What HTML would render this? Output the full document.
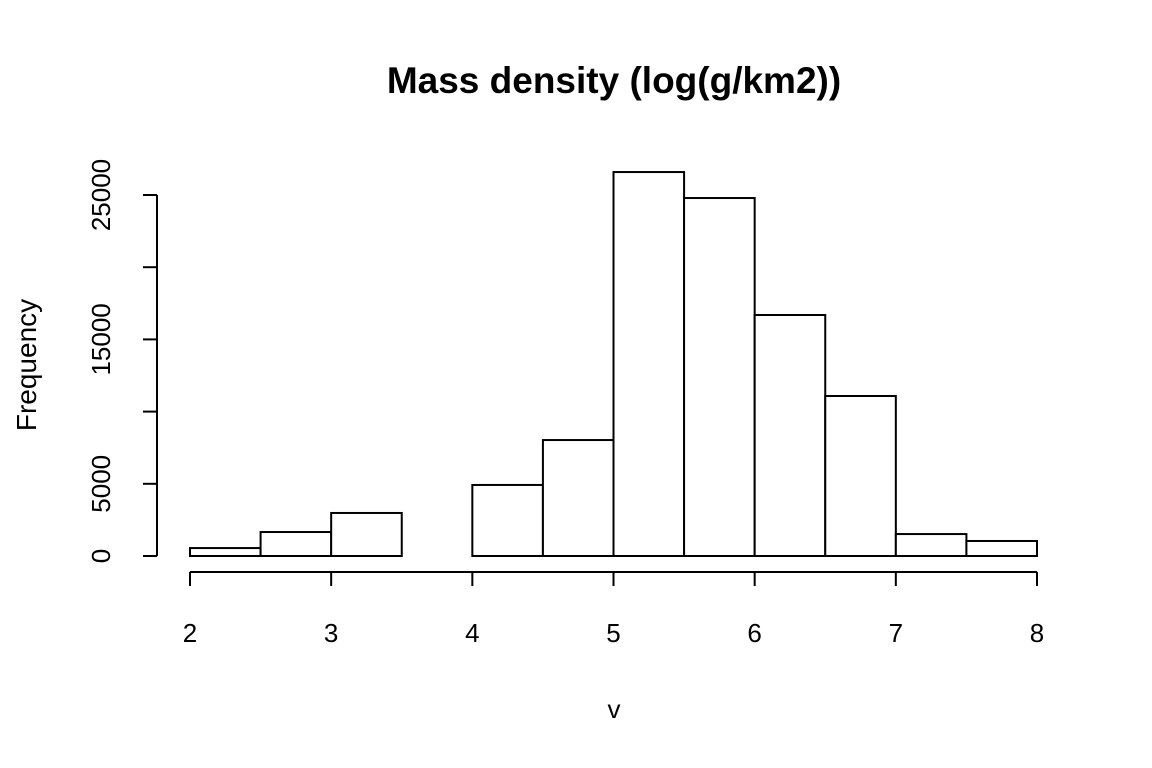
<!DOCTYPE html>
<html><head><meta charset="utf-8"><style>
html,body{margin:0;padding:0;background:#fff;}
svg{display:block;font-family:"Liberation Sans",Arial,sans-serif;}
</style></head><body>
<svg id="chart" width="1152" height="768" viewBox="0 0 1152 768">
<text x="614" y="93" text-anchor="middle" font-size="37" font-weight="bold">Mass density (log(g/km2))</text>
<text x="614" y="718" text-anchor="middle" font-size="26">v</text>
<text x="36" y="365" text-anchor="middle" font-size="28" transform="rotate(-90 36 365)">Frequency</text>
<g id="bars"></g><g id="xaxis"></g><g id="yaxis"></g>
</svg>
<script>
const binStarts = [2,2.5,3,3.5,4,4.5,5,5.5,6,6.5,7,7.5];
const counts = [550,1660,2980,0,4920,8030,26590,24790,16690,11080,1520,1040];
const xTicks = [2,3,4,5,6,7,8];
const yTicks = [0,5000,10000,15000,20000,25000];
const yTickLabels = ["0","5000","","15000","","25000"];
const binWidth = 0.5;
const NS="http://www.w3.org/2000/svg";
function sx(v){return 190+(v-2)*(1037-190)/6;}
function sy(v){return 556-v*(556-195)/25000;}
function mk(t,a,p){const e=document.createElementNS(NS,t);for(const k in a)e.setAttribute(k,a[k]);p.appendChild(e);return e;}
const bars=document.getElementById('bars');
binStarts.forEach((b,i)=>{
  const x0=sx(b),x1=sx(b+binWidth),y=sy(counts[i]);
  const r=mk('rect',{x:x0,y:y,width:x1-x0,height:556-y,fill:'#fff',stroke:'#000','stroke-width':2},bars);
  
  
});
const xa=document.getElementById('xaxis');
const xl=mk('line',{x1:sx(xTicks[0]),x2:sx(xTicks[xTicks.length-1]),y1:572,y2:572,stroke:'#000','stroke-width':2},xa);


xTicks.forEach(t=>{
  mk('line',{x1:sx(t),x2:sx(t),y1:572,y2:586,stroke:'#000','stroke-width':2},xa);
  const tx=mk('text',{x:sx(t),y:642,'text-anchor':'middle','font-size':26},xa);
  tx.textContent=t;
  
  
});
const ya=document.getElementById('yaxis');
const yl=mk('line',{x1:157,x2:157,y1:sy(yTicks[0]),y2:sy(yTicks[yTicks.length-1]),stroke:'#000','stroke-width':2},ya);


yTicks.forEach((t,i)=>{
  mk('line',{x1:143,x2:157,y1:sy(t),y2:sy(t),stroke:'#000','stroke-width':2},ya);
  if(yTickLabels[i]){
    const tx=mk('text',{x:110,y:sy(t),'text-anchor':'middle','font-size':26,transform:'rotate(-90 110 '+sy(t)+')'},ya);
    tx.textContent=yTickLabels[i];
    
    
  }
});
</script>
</body></html>
